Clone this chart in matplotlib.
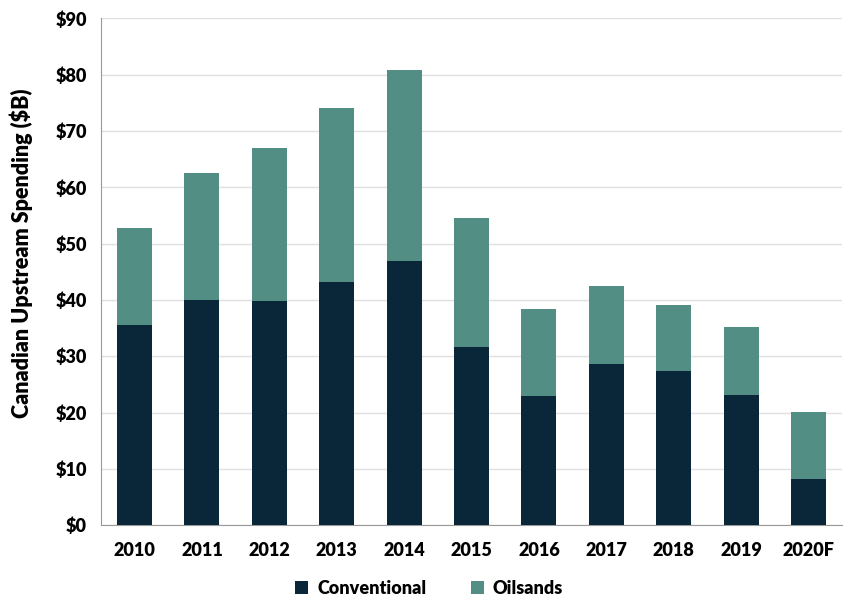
import matplotlib
matplotlib.use("Agg")
import matplotlib.pyplot as plt
import numpy as np

years = ["2010", "2011", "2012", "2013", "2014", "2015", "2016", "2017", "2018", "2019", "2020F"]
conventional = [35.6, 40.0, 39.8, 43.2, 46.9, 31.6, 23.0, 28.7, 27.3, 23.2, 8.2]
totals = [52.8, 62.6, 66.9, 74.0, 80.8, 54.5, 38.4, 42.5, 39.1, 35.2, 20.1]
oilsands = [t - c for t, c in zip(totals, conventional)]

W = 'heavy'
plt.rcParams['font.family'] = ['Lato', 'DejaVu Sans']
plt.rcParams['font.weight'] = W

fig = plt.figure(figsize=(8.62, 6.10), dpi=100)
ax = fig.add_axes([0.117, 0.139, 0.860, 0.831])

x = np.arange(len(years))
c1 = "#0A2639"
c2 = "#538E84"
ax.bar(x, conventional, width=0.52, color=c1, label="Conventional", zorder=3)
ax.bar(x, oilsands, width=0.52, bottom=conventional, color=c2, label="Oilsands", zorder=3)

ax.set_xlim(-0.5, len(years) - 0.5)
ax.set_ylim(0, 90)
ax.set_yticks(np.arange(0, 91, 10))
ax.set_yticklabels([f"${v}" for v in range(0, 91, 10)], fontsize=13, fontweight=W)
ax.set_xticks(x)
ax.set_xticklabels(years, fontsize=13, fontweight=W)
ax.tick_params(axis='both', length=0)
ax.tick_params(axis='x', pad=12)
ax.tick_params(axis='y', pad=10)
ax.grid(axis='y', color='#E0E0E0', linewidth=1, zorder=0)
for s in ['top', 'right']:
    ax.spines[s].set_visible(False)
ax.spines['left'].set_color('#999999')
ax.spines['bottom'].set_color('#999999')
ax.set_ylabel("Canadian Upstream Spending ($B)", fontsize=15.5, fontweight=W)
ax.yaxis.set_label_coords(-0.092, 0.536)

fig.legend(loc='center', bbox_to_anchor=(0.498, 0.036), ncol=2, frameon=False,
           prop={'size': 13, 'weight': W}, handlelength=0.7, handleheight=0.7,
           columnspacing=2.5, handletextpad=0.5)

fig.savefig("out.png", dpi=100)
